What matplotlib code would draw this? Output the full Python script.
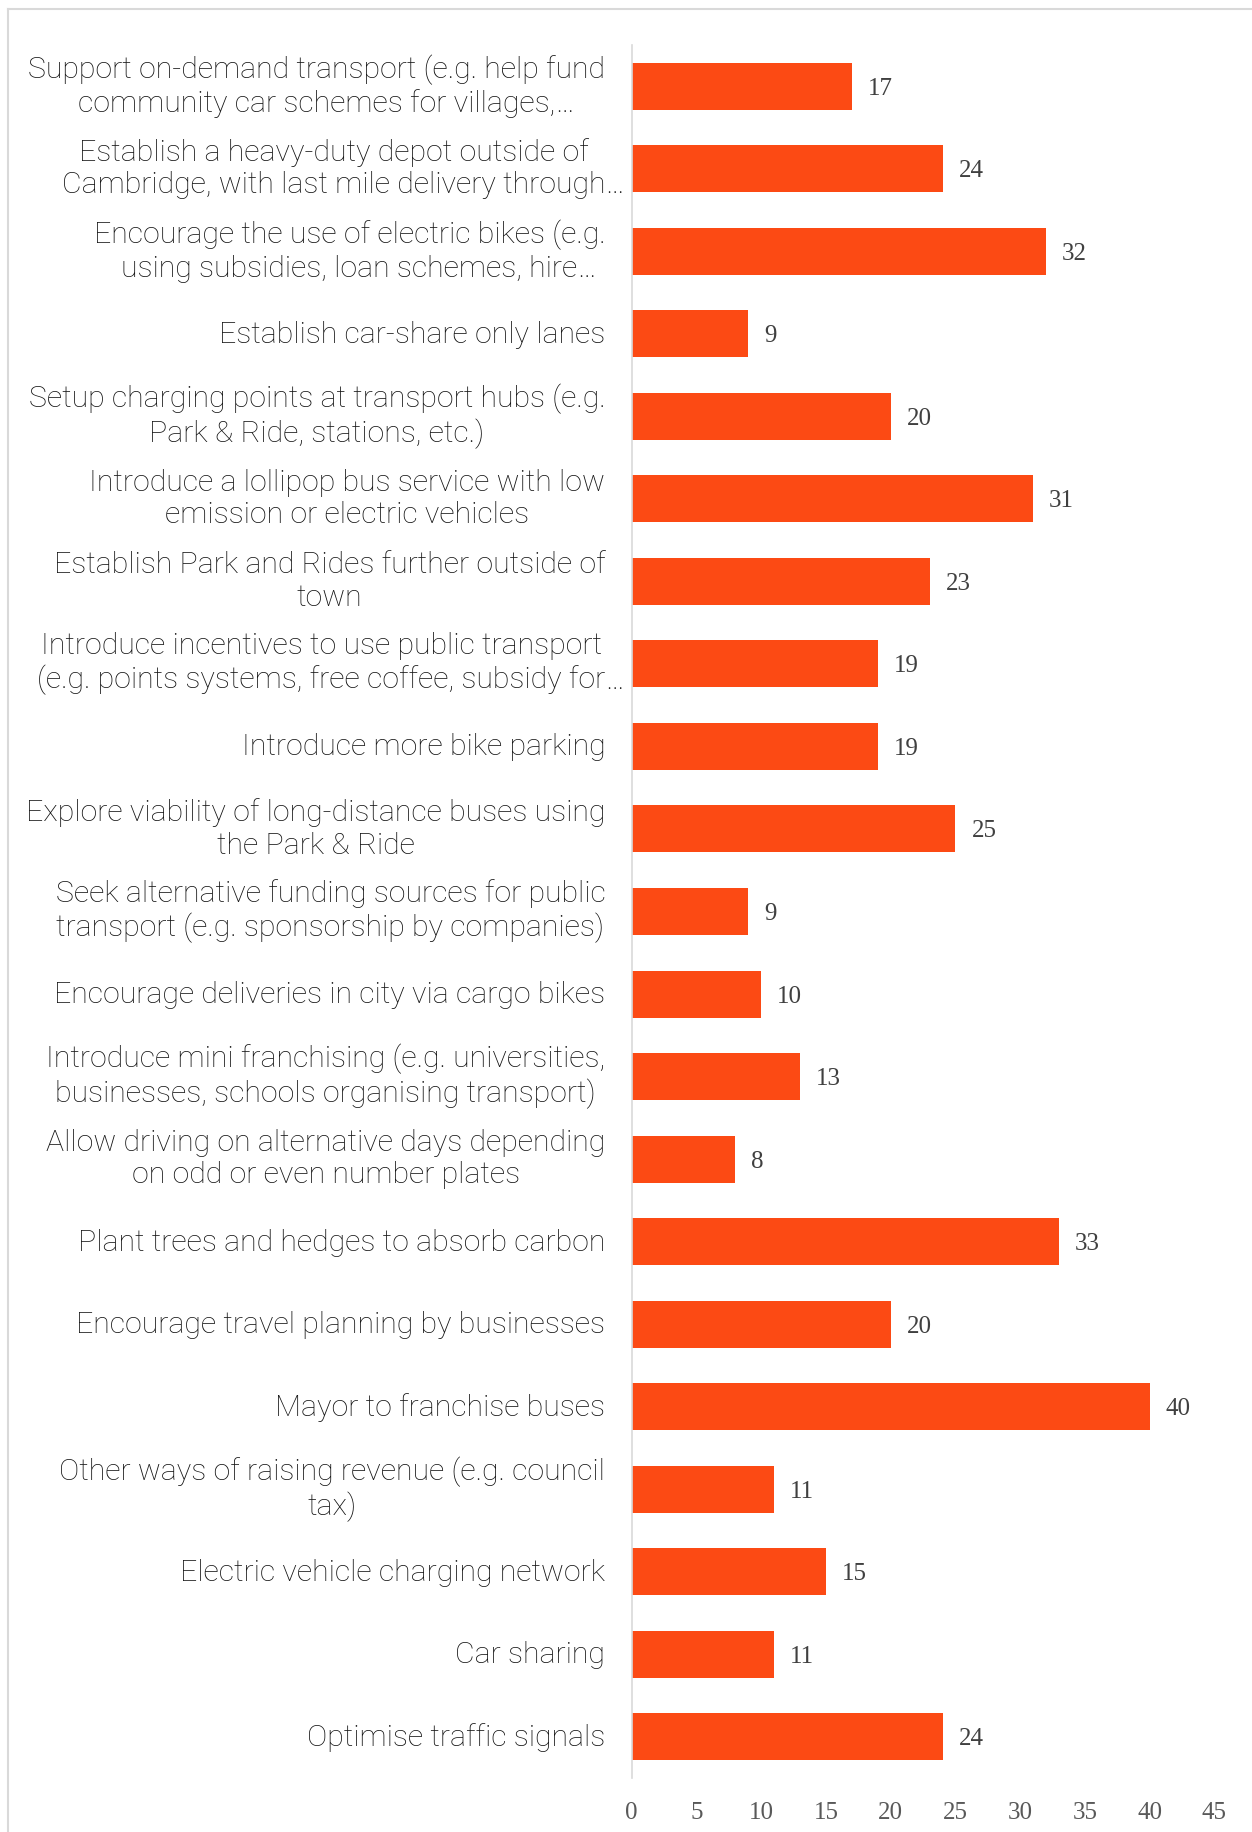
import numpy as np
import matplotlib
matplotlib.use('Agg')
from matplotlib import pyplot as plt
from matplotlib.lines import Line2D

categories = [
    'Support on-demand transport (e.g. help fund\ncommunity car schemes for villages,…',
    'Establish a heavy-duty depot outside of\nCambridge, with last mile delivery through…',
    'Encourage the use of electric bikes (e.g.\nusing subsidies, loan schemes, hire…',
    'Establish car-share only lanes',
    'Setup charging points at transport hubs (e.g.\nPark & Ride, stations, etc.)',
    'Introduce a lollipop bus service with low\nemission or electric vehicles',
    'Establish Park and Rides further outside of\ntown',
    'Introduce incentives to use public transport\n(e.g. points systems, free coffee, subsidy for…',
    'Introduce more bike parking',
    'Explore viability of long-distance buses using\nthe Park & Ride',
    'Seek alternative funding sources for public\ntransport (e.g. sponsorship by companies)',
    'Encourage deliveries in city via cargo bikes',
    'Introduce mini franchising (e.g. universities,\nbusinesses, schools organising transport)',
    'Allow driving on alternative days depending\non odd or even number plates',
    'Plant trees and hedges to absorb carbon',
    'Encourage travel planning by businesses',
    'Mayor to franchise buses',
    'Other ways of raising revenue (e.g. council\ntax)',
    'Electric vehicle charging network',
    'Car sharing',
    'Optimise traffic signals',
]
values = [17, 24, 32, 9, 20, 31, 23, 19, 19, 25, 9, 10, 13, 8, 33, 20, 40, 11, 15, 11, 24]
xticks = [0, 5, 10, 15, 20, 25, 30, 35, 40, 45]

W, H = 1252, 1832
label_font = dict(family='Roboto', fontweight='light', fontsize=21.8, color='#141414')

fig = plt.figure(figsize=(W / 100, H / 100), dpi=100)

# light frame (only top and left visible)
fig.add_artist(Line2D([8 / W, 1.0], [1 - 9 / H, 1 - 9 / H], color='#d9d9d9', lw=1.5))
fig.add_artist(Line2D([8 / W, 8 / W], [0.0, 1 - 9 / H], color='#d9d9d9', lw=1.5))

ax = fig.add_axes([631.7 / W, 1 - 1778 / H, (1214.5 - 631.7) / W, (1778 - 45) / H])
y = np.arange(len(values))
ax.barh(y, values, height=0.57, color='#fc4a14', edgecolor='none')
ax.set_ylim(len(values) - 0.5, -0.5)
ax.set_xlim(0, 45)

for yi, v in zip(y, values):
    ax.annotate(str(v), (v, yi), xytext=(11.5, 0), textcoords='offset points',
                va='center_baseline', ha='left', family='Liberation Serif',
                fontsize=18, color='#404040')

# category labels; excel centres truncated lines without the ellipsis,
# so strip it here and add it after the line
trimmed = [c[:-1] if c.endswith('…') else c for c in categories]
labels = []
for yi, txt in zip(y, trimmed):
    dy = 0 if '\n' in txt else -0.7
    t = ax.annotate(txt, (0, yi), xytext=(-19, dy), textcoords='offset points',
                    ha='right', va='center', multialignment='center',
                    linespacing=1.2, annotation_clip=False, **label_font)
    labels.append(t)

ax.set_yticks([])
ax.set_xticks(xticks)
ax.set_xticklabels([str(x) for x in xticks], family='Liberation Serif', fontsize=18,
                   color='#595959')
ax.tick_params(axis='x', length=0, pad=17)
for s in ['top', 'right', 'bottom']:
    ax.spines[s].set_visible(False)
ax.spines['left'].set_color('#d9d9d9')
ax.spines['left'].set_linewidth(1.2)

fig.canvas.draw()
rend = fig.canvas.get_renderer()
for t, full, short in zip(labels, categories, trimmed):
    if full == short:
        continue
    bb = t.get_window_extent(rend)
    last = short.split('\n')[-1]
    tmp = fig.text(0, 0, last, **label_font)
    lw = tmp.get_window_extent(rend).width
    tmp.remove()
    right = bb.x1 - (bb.width - lw) / 2
    fig.text(right / W, bb.y0 / H, '…', ha='left', va='bottom', **label_font)

fig.savefig('out.png', dpi=100)
